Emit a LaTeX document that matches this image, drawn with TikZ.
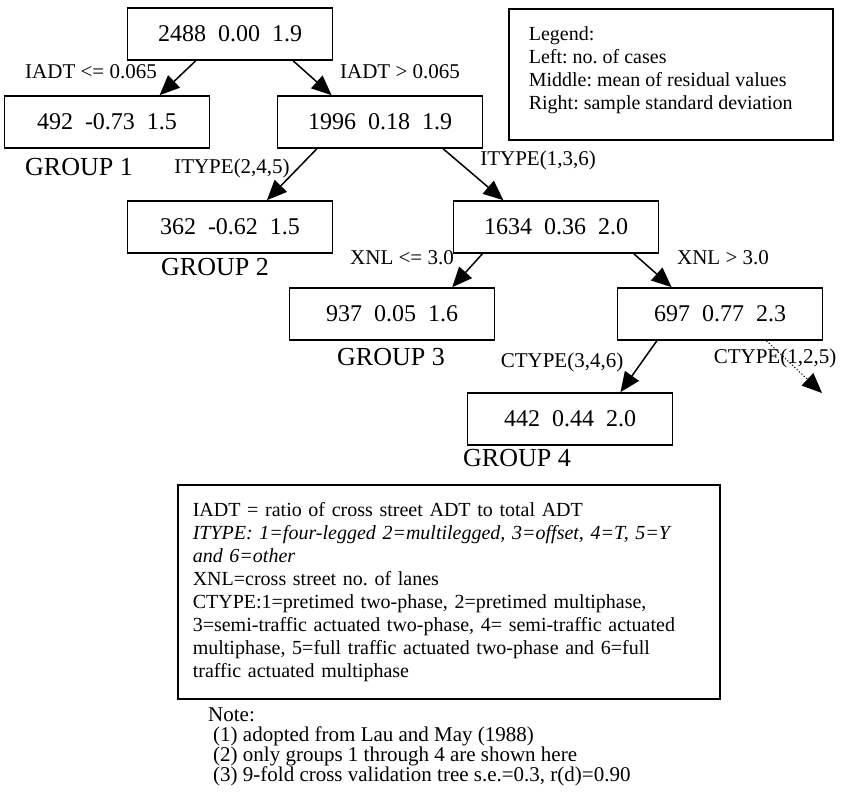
\documentclass[tikz,border=0pt]{standalone}
\usepackage{fontspec}
\setmainfont{Liberation Serif}
\usetikzlibrary{arrows.meta}

\tikzset{
  leaf/.style={draw, line width=1.6pt, minimum width=205pt, minimum height=52pt,
    inner sep=0pt, font=\fontsize{24}{28}\selectfont},
  cond/.style={inner sep=0pt, font=\fontsize{21}{24}\selectfont},
  grp/.style={inner sep=0pt, font=\fontsize{26}{30}\selectfont},
  keybox/.style={draw, line width=1.6pt, align=left, anchor=north west,
    font=\fontsize{20}{23}\selectfont},
  branch/.style={line width=1.5pt, -{Triangle[length=20pt,width=17pt]}},
}

\begin{document}
\frenchspacing\hyphenpenalty=10000\exhyphenpenalty=10000
\begin{tikzpicture}[x=1pt,y=-1pt]
\useasboundingbox (0,0) rectangle (842,799);
% tree nodes: cases, mean residual, std. dev.
\node[leaf] (n0) at (230,34) {2488\ \ 0.00\ \ 1.9};
\node[leaf] (n1) at (107,122) {492\ \ -0.73\ \ 1.5};
\node[leaf] (n2) at (380,122) {1996\ \ 0.18\ \ 1.9};
\node[leaf] (n3) at (230,227) {362\ \ -0.62\ \ 1.5};
\node[leaf] (n4) at (556,227) {1634\ \ 0.36\ \ 2.0};
\node[leaf] (n5) at (392,314) {937\ \ 0.05\ \ 1.6};
\node[leaf] (n6) at (720,314) {697\ \ 0.77\ \ 2.3};
\node[leaf] (n7) at (570,419) {442\ \ 0.44\ \ 2.0};
\coordinate (c1) at (822,393);

% splitting rules
\node[cond] (l1) at (91,72) {IADT <= 0.065};
\node[cond] (l2) at (400,72) {IADT > 0.065};
\node[cond] (l3) at (232,168) {ITYPE(2,4,5)};
\node[cond] (l4) at (538,160) {ITYPE(1,3,6)};
\node[cond] (l5) at (402,258) {XNL <= 3.0};
\node[cond] (l6) at (723,258) {XNL > 3.0};
\node[cond] (l7) at (562,362) {CTYPE(3,4,6)};
\node[cond] (l8) at (775,358) {CTYPE(1,2,5)};

% terminal groups
\node[grp] (g1) at (79,167) {GROUP 1};
\node[grp] (g2) at (215,267) {GROUP 2};
\node[grp] (g3) at (391,357) {GROUP 3};
\node[grp] (g4) at (517,458) {GROUP 4};

\draw[branch] (n0.-142) -- (n1.27);
\draw[branch] (n0.-23) -- (n2.151);
\draw[branch] (n2.-157) -- (n3.36);
\draw[branch] (n2.-23) -- (n4.153);
\draw[branch] (n4.-160) -- (n5.24);
\draw[branch] (n4.-19) -- (n6.151);
\draw[branch] (n6.-157) -- (n7.28);
\draw[branch, line width=1pt, dash pattern=on 1.2pt off 2pt] (n6.-30) -- (c1);

% legend and variable definitions
\node[keybox, minimum width=324pt, minimum height=131pt, inner sep=0pt] (key) at (508,8) {};
\node[keybox, draw=none, inner sep=0pt] (keytext) at (528,26)
  {Legend:\\Left: no. of cases\\Middle: mean of residual values\\Right: sample standard deviation};
\node[keybox, text width=512pt, inner xsep=15pt, minimum height=214pt] (defs) at (177,484)
  {IADT = ratio of cross street ADT to total ADT\\
   \textit{ITYPE: 1=four-legged 2=multilegged, 3=offset, 4=T, 5=Y}\\
   \textit{and 6=other}\\
   XNL=cross street no. of lanes\\
   CTYPE:1=pretimed two-phase, 2=pretimed multiphase,\\
   3=semi-traffic actuated two-phase, 4= semi-traffic actuated\\
   multiphase, 5=full traffic actuated two-phase and 6=full\\
   traffic actuated multiphase};
\node[align=left, anchor=north west, inner sep=0pt, font=\fontsize{21}{20}\selectfont] (note) at (208,708)
  {Note:\\
   \hspace*{5pt}(1) adopted from Lau and May (1988)\\
   \hspace*{5pt}(2) only groups 1 through 4 are shown here\\
   \hspace*{5pt}(3) 9-fold cross validation tree s.e.=0.3, r(d)=0.90};
\end{tikzpicture}
\end{document}
